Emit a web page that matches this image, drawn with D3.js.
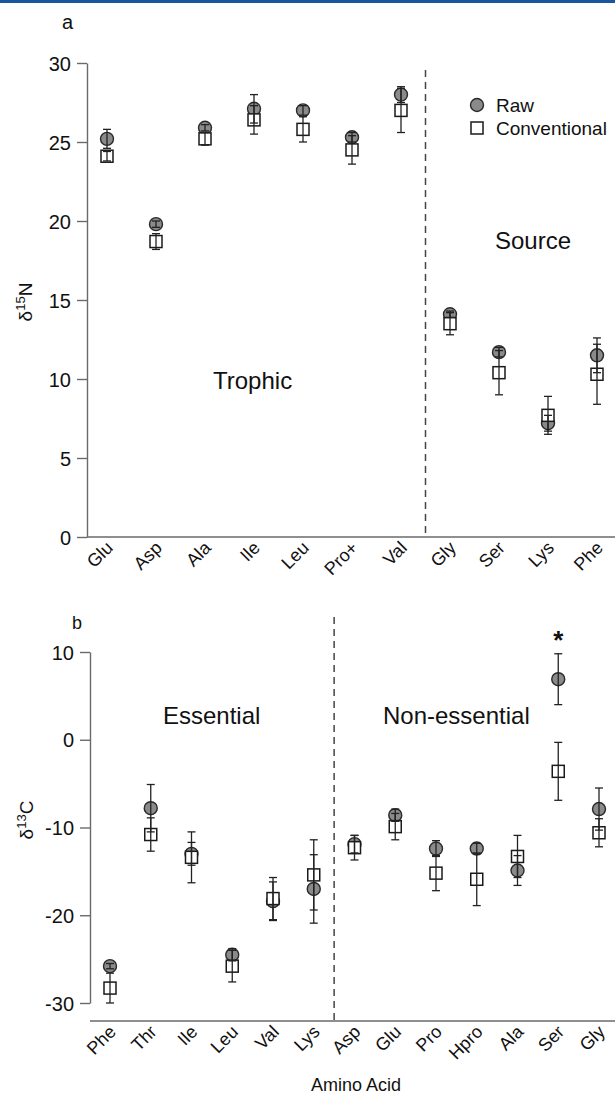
<!DOCTYPE html>
<html>
<head>
<meta charset="utf-8">
<script src="https://cdn.jsdelivr.net/npm/d3@7"></script>
<style>
  body { margin: 0; background: #fff; }
  svg text { font-family: "Liberation Sans", Arial, sans-serif; fill: #111; }
</style>
</head>
<body>
<script>
// panel a : d15N
const aminoA = ["Glu", "Asp", "Ala", "Ile", "Leu", "Pro+", "Val", "Gly", "Ser", "Lys", "Phe"];
const rawA = [25.2, 19.8, 25.9, 27.1, 27.0, 25.3, 28.0, 14.1, 11.7, 7.2, 11.5];
const rawSdA = [0.6, 0.2, 0.2, 0.9, 0.3, 0.3, 0.5, 0.2, 0.3, 0.5, 1.1];
const convA = [24.1, 18.7, 25.2, 26.4, 25.8, 24.5, 27.0, 13.5, 10.4, 7.7, 10.3];
const convSdA = [0.3, 0.5, 0.4, 0.9, 0.8, 0.9, 1.4, 0.7, 1.4, 1.2, 1.9];
const ticksA = [0, 5, 10, 15, 20, 25, 30];

// panel b : d13C
const aminoB = ["Phe", "Thr", "Ile", "Leu", "Val", "Lys", "Asp", "Glu", "Pro", "Hpro", "Ala", "Ser", "Gly"];
const rawB = [-25.8, -7.8, -13.0, -24.5, -18.4, -17.0, -11.9, -8.6, -12.4, -12.4, -14.9, 6.9, -7.9];
const rawSdB = [0.3, 2.7, 1.3, 0.7, 2.2, 3.9, 1.0, 0.7, 0.9, 0.6, 1.7, 2.9, 2.4];
const convB = [-28.3, -10.8, -13.4, -25.8, -18.1, -15.4, -12.3, -9.9, -15.2, -15.9, -13.3, -3.6, -10.6];
const convSdB = [1.7, 1.9, 2.9, 1.8, 2.4, 4.0, 1.4, 1.5, 2.0, 3.0, 2.4, 3.3, 1.6];
const ticksB = [-30, -20, -10, 0, 10];

const W = 615, H = 1096;

const svg = d3.select("body").append("svg")
    .attr("width", W)
    .attr("height", H);

// blue rule at top
svg.append("rect")
    .attr("x", 0).attr("y", 0)
    .attr("width", W).attr("height", 3)
    .attr("fill", "#1a56a0");

function series(cats, vals, sds) {
    return cats.map((c, i) => ({cat: c, v: vals[i], sd: sds[i]}));
}

function drawPanel(opt) {
    const g = svg.append("g");
    const x = d3.scalePoint().domain(opt.cats).range(opt.xRange);
    const y = d3.scaleLinear().domain(opt.yDomain).range(opt.yRange);

    // y axis (plain hyphen for negatives, like the original)
    const yAxis = g.append("g")
        .attr("transform", "translate(" + opt.axisX + ",0)")
        .call(d3.axisLeft(y).tickValues(opt.ticks).tickFormat(d => String(d))
            .tickSize(10).tickSizeOuter(0).tickPadding(6));
    yAxis.select(".domain").attr("stroke", "#6a6a6a").attr("stroke-width", 1.4);
    yAxis.selectAll(".tick line").attr("stroke", "#6a6a6a").attr("stroke-width", 1.4);
    yAxis.selectAll(".tick text")
        .style("font-size", "20px")
        .attr("dy", "0.36em")
        .attr("fill", "#111");

    // x axis line
    g.append("line")
        .attr("x1", opt.axisX).attr("x2", W)
        .attr("y1", opt.baseY).attr("y2", opt.baseY)
        .attr("stroke", "#6a6a6a").attr("stroke-width", 1.4);

    // category labels
    g.selectAll(".xlab")
        .data(opt.cats)
        .enter()
        .append("text")
        .attr("class", "xlab")
        .attr("text-anchor", "end")
        .style("font-size", "18px")
        .attr("transform", d => "translate(" + (x(d) + 7) + "," + (opt.baseY + 12) + ") rotate(-45)")
        .text(d => d);

    // dashed divider
    const i0 = opt.cats.indexOf(opt.splitAfter);
    const dx = (x(opt.cats[i0]) + x(opt.cats[i0 + 1])) / 2;
    g.append("line")
        .attr("x1", dx).attr("x2", dx)
        .attr("y1", opt.dashTop).attr("y2", opt.baseY)
        .attr("stroke", "#444")
        .attr("stroke-width", 1.5)
        .attr("stroke-dasharray", "7,5");

    const raw = series(opt.cats, opt.raw, opt.rawSd);
    const conv = series(opt.cats, opt.conv, opt.convSd);

    // markers
    g.selectAll(".raw")
        .data(raw)
        .enter()
        .append("circle")
        .attr("cx", d => x(d.cat))
        .attr("cy", d => y(d.v))
        .attr("r", 6.5)
        .attr("fill", "#8a8a8a")
        .attr("stroke", "#2a2a2a")
        .attr("stroke-width", 1.4);

    g.selectAll(".conv")
        .data(conv)
        .enter()
        .append("rect")
        .attr("x", d => x(d.cat) - 6)
        .attr("y", d => y(d.v) - 6)
        .attr("width", 12)
        .attr("height", 12)
        .attr("fill", "#fff")
        .attr("stroke", "#1a1a1a")
        .attr("stroke-width", 1.5);

    // error bars on top
    const errs = raw.concat(conv);
    const eg = g.append("g").attr("stroke", "#222").attr("stroke-width", 1.3);
    errs.forEach(d => {
        const cx = x(d.cat), y1 = y(d.v - d.sd), y2 = y(d.v + d.sd);
        eg.append("line").attr("x1", cx).attr("x2", cx).attr("y1", y1).attr("y2", y2);
        eg.append("line").attr("x1", cx - 4).attr("x2", cx + 4).attr("y1", y1).attr("y2", y1);
        eg.append("line").attr("x1", cx - 4).attr("x2", cx + 4).attr("y1", y2).attr("y2", y2);
    });

    // y label with superscript
    const yl = g.append("text")
        .attr("text-anchor", "middle")
        .style("font-size", "19px")
        .attr("transform", "translate(" + opt.labelX + "," + opt.labelY + ") rotate(-90)");
    yl.append("tspan").text("δ");
    yl.append("tspan").attr("dy", -7).style("font-size", "13px").text(opt.iso);
    yl.append("tspan").attr("dy", 7).text(opt.el);

    return {x: x, y: y, g: g};
}

const pa = drawPanel({
    cats: aminoA, raw: rawA, rawSd: rawSdA, conv: convA, convSd: convSdA,
    xRange: [107, 597], yDomain: [0, 30], yRange: [537, 63],
    axisX: 87, baseY: 537, ticks: ticksA, splitAfter: "Val", dashTop: 70,
    labelX: 32, labelY: 302, iso: "15", el: "N"
});

const pb = drawPanel({
    cats: aminoB, raw: rawB, rawSd: rawSdB, conv: convB, convSd: convSdB,
    xRange: [110, 599], yDomain: [-30, 10], yRange: [1003, 652],
    axisX: 90, baseY: 1021, ticks: ticksB, splitAfter: "Lys", dashTop: 617,
    labelX: 33, labelY: 820, iso: "13", el: "C"
});

// panel letters
svg.append("text").attr("x", 62).attr("y", 29).style("font-size", "20px").text("a");
svg.append("text").attr("x", 72).attr("y", 629).style("font-size", "18px").text("b");

// group labels
const big = [
    {t: "Trophic", x: 213, y: 389},
    {t: "Source", x: 495, y: 249},
    {t: "Essential", x: 163, y: 724},
    {t: "Non-essential", x: 383, y: 724}
];
svg.selectAll(".grp")
    .data(big)
    .enter()
    .append("text")
    .style("font-size", "24px")
    .attr("x", d => d.x)
    .attr("y", d => d.y)
    .text(d => d.t);

// asterisk over Ser raw
svg.append("text")
    .attr("x", pb.x("Ser"))
    .attr("y", 649)
    .attr("text-anchor", "middle")
    .style("font-size", "26px")
    .style("font-weight", "bold")
    .text("*");

// legend
const lg = svg.append("g").attr("transform", "translate(477,105)");
lg.append("circle").attr("cx", 0).attr("cy", 0).attr("r", 6.5)
    .attr("fill", "#8a8a8a").attr("stroke", "#2a2a2a").attr("stroke-width", 1.4);
lg.append("text").attr("x", 19).attr("y", 7).style("font-size", "19px").text("Raw");
lg.append("rect").attr("x", -6).attr("y", 17).attr("width", 12).attr("height", 12)
    .attr("fill", "#fff").attr("stroke", "#1a1a1a").attr("stroke-width", 1.5);
lg.append("text").attr("x", 19).attr("y", 30).style("font-size", "19px").text("Conventional");

// x title
svg.append("text")
    .attr("x", 356)
    .attr("y", 1091)
    .attr("text-anchor", "middle")
    .style("font-size", "18px")
    .text("Amino Acid");
</script>
</body>
</html>
